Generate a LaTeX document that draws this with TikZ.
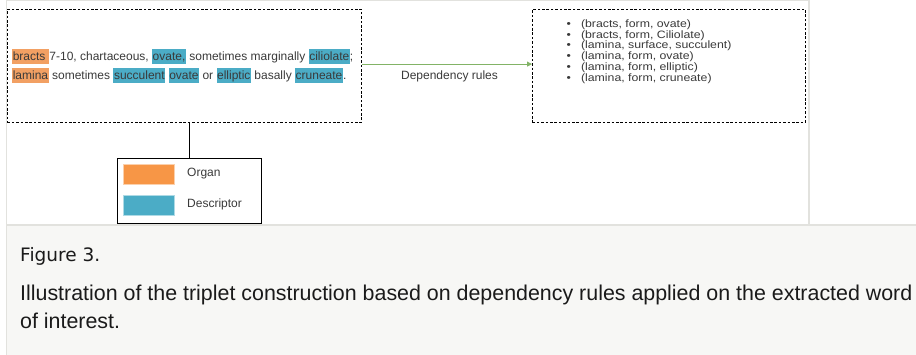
\documentclass[tikz,border=0pt]{standalone}
\usepackage{fontspec}
\usepackage{graphicx}
\setmainfont{Liberation Sans}
\newfontfamily\figfont{DejaVu Sans}
\usetikzlibrary{arrows.meta}
\definecolor{orghl}{HTML}{F2A063}
\definecolor{deschl}{HTML}{4BACC6}
\definecolor{orgsw}{HTML}{F79646}
\definecolor{descsw}{HTML}{4BACC6}
\definecolor{txt}{HTML}{3A3A3A}
\definecolor{arrowgreen}{HTML}{82B366}
\definecolor{capbg}{HTML}{F7F7F5}
\definecolor{framec}{HTML}{E2E2DE}
\definecolor{capfg}{HTML}{1A1A1A}
\newcommand{\hlw}[2]{{\setlength{\fboxsep}{0pt}\colorbox{#1}{\rule[-3.6pt]{0pt}{14.6pt}\hspace{0.6pt}#2\hspace{0.6pt}}}}
\newcommand{\litem}[1]{\scalebox{1.15}[1]{\textbullet\hspace{8.7pt}#1}}
\tikzset{
  dbox/.style={draw=black, line width=0.8pt, dash pattern=on 2.6pt off 1.8pt, inner sep=0pt},
  swatch/.style={inner sep=0pt, minimum width=51pt, minimum height=20pt, line width=0.8pt},
  dtext/.style={inner sep=0pt, text=txt, font=\fontsize{12}{14}\selectfont},
  ltext/.style={inner sep=0pt, text=txt, font=\fontsize{10.7}{12}\selectfont, anchor=base west},
  captext/.style={inner sep=0pt, text=capfg, anchor=base west}
}
\begin{document}
\begin{tikzpicture}[x=1pt,y=-1pt]
\useasboundingbox (0,0) rectangle (916,355);
\fill[white] (0,0) rectangle (916,355);
% image frame
\draw[framec, line width=1.2pt] (6.5,0.6) -- (809,0.6);
\draw[framec, line width=1.5pt] (6.5,0) -- (6.5,224) (809,0) -- (809,224);
% caption panel
\fill[capbg] (6,224) rectangle (916,355);
\draw[framec, line width=2pt] (6,225) -- (916,225);
\draw[framec, line width=1.5pt] (6.5,224) -- (6.5,355);

% source text box
\node[dbox, minimum width=354pt, minimum height=113pt, anchor=north west] (src) at (7,9) {};
\node[dtext, anchor=base west] (l1) at (12,60.5) {\hlw{orghl}{bracts\ }7-10, chartaceous, \hlw{deschl}{ovate,} sometimes marginally \hlw{deschl}{ciliolate};};
\node[dtext, anchor=base west] (l2) at (12,79.5) {\hlw{orghl}{lamina} sometimes \hlw{deschl}{succulent} \hlw{deschl}{ovate} or \hlw{deschl}{elliptic} basally \hlw{deschl}{cruneate}.};

% triplets box
\node[dbox, minimum width=273pt, minimum height=113pt, anchor=north west] (dst) at (532,9) {};
\node[ltext] (t1) at (566.5,27.6) {\litem{(bracts, form, ovate)}};
\node[ltext] (t2) at (566.5,38.3) {\litem{(bracts, form, Ciliolate)}};
\node[ltext] (t3) at (566.5,49.0) {\litem{(lamina, surface, succulent)}};
\node[ltext] (t4) at (566.5,59.7) {\litem{(lamina, form, ovate)}};
\node[ltext] (t5) at (566.5,70.5) {\litem{(lamina, form, elliptic)}};
\node[ltext] (t6) at (566.5,81.2) {\litem{(lamina, form, cruneate)}};

% arrow
\draw[arrowgreen, line width=0.9pt, -{Triangle[length=5pt,width=5pt]}] ([yshift=1.8pt]src.east) -- ([yshift=1.8pt]dst.west);
\node[inner sep=0pt, text=txt, font=\fontsize{12}{14}\selectfont] (dep) at (449.5,76) {Dependency rules};

% legend
\node[draw=black, line width=0.9pt, minimum width=144pt, minimum height=65pt, anchor=north west, inner sep=0pt] (leg) at (117,158) {};
\draw[black, line width=0.9pt] (leg.north) -- (leg.north |- src.south);
\node[swatch, fill=orgsw, draw=orgsw!45!white, anchor=north west] (osw) at (123,164) {};
\node[swatch, fill=descsw, draw=descsw!45!white, anchor=north west] (dsw) at (123,195) {};
\node[dtext, anchor=west] (otx) at (187,174) {Organ};
\node[dtext, anchor=west] (dtx) at (187,204) {Descriptor};

% caption
\node[captext, font=\figfont\fontsize{18.5}{22}\selectfont] (fig) at (20,262) {Figure 3.};
\node[captext, font=\fontsize{21.4}{26}\selectfont] (cap1) at (20,301) {Illustration of the triplet construction based on dependency rules applied on the extracted word};
\node[captext, font=\fontsize{21.4}{26}\selectfont] (cap2) at (20,329) {of interest.};
\end{tikzpicture}
\end{document}
